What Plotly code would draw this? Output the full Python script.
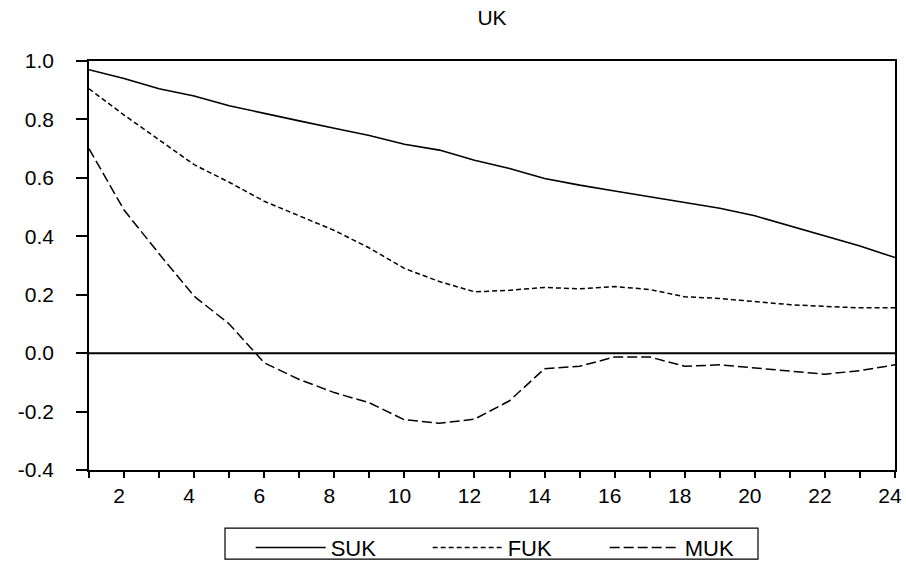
import plotly.graph_objects as go

periods = list(range(1, 25))
suk = [0.97, 0.94, 0.905, 0.88, 0.847, 0.82, 0.795, 0.77, 0.745, 0.715, 0.695, 0.66,
       0.632, 0.598, 0.575, 0.555, 0.535, 0.515, 0.496, 0.47, 0.435, 0.4, 0.367, 0.327]
fuk = [0.905, 0.815, 0.73, 0.645, 0.585, 0.52, 0.47, 0.42, 0.36, 0.29, 0.245, 0.21,
       0.215, 0.225, 0.22, 0.228, 0.218, 0.193, 0.187, 0.176, 0.166, 0.16, 0.155, 0.155]
muk = [0.70, 0.49, 0.34, 0.195, 0.10, -0.033, -0.09, -0.135, -0.17, -0.228, -0.24, -0.226,
       -0.163, -0.053, -0.045, -0.013, -0.013, -0.045, -0.04, -0.05, -0.06, -0.072, -0.06, -0.04]
x_tick_vals = periods
x_tick_text = [str(v) if v % 2 == 0 else "" for v in periods]
y_tick_vals = [-0.4, -0.2, 0.0, 0.2, 0.4, 0.6, 0.8, 1.0]
y_tick_text = ["-0.4", "-0.2", "0.0", "0.2", "0.4", "0.6", "0.8", "1.0"]

FONT = "Arial, Liberation Sans, sans-serif"

fig = go.Figure()
fig.add_trace(go.Scatter(x=periods, y=suk, name="SUK", mode="lines",
                         line=dict(color="black", width=1.6)))
fig.add_trace(go.Scatter(x=periods, y=fuk, name="FUK", mode="lines",
                         line=dict(color="black", width=1.5, dash="5px,3px")))
fig.add_trace(go.Scatter(x=periods, y=muk, name="MUK", mode="lines",
                         line=dict(color="black", width=1.5, dash="10px,4px")))

fig.add_hline(y=0, line=dict(color="black", width=2))

# legend frame (plot area spans 806 x 408 px)
fig.add_shape(type="rect", xref="paper", yref="paper",
              x0=(225 - 89) / 806, x1=(758 - 89) / 806,
              y0=(470 - 559) / 408, y1=(470 - 528) / 408,
              line=dict(color="black", width=1.2), fillcolor="rgba(0,0,0,0)")

fig.update_layout(
    width=906, height=562,
    paper_bgcolor="white", plot_bgcolor="white",
    margin=dict(l=89, r=11, t=61, b=92, autoexpand=False),
    font=dict(family=FONT, size=21, color="black"),
    title=dict(text="UK", x=0.5, xref="paper", y=1 - 18 / 562, yref="container",
               xanchor="center", yanchor="middle", font=dict(size=21)),
    showlegend=True,
    legend=dict(orientation="h", x=0.53, xanchor="center", y=-0.1385, yanchor="top",
                borderwidth=0, bgcolor="rgba(0,0,0,0)",
                font=dict(size=22), entrywidth=92, itemwidth=70),
    xaxis=dict(range=[1, 24], tickvals=x_tick_vals, ticktext=x_tick_text,
               ticks="outside", ticklen=6, tickcolor="black", tickwidth=1.5,
               ticklabelstandoff=0, ticklabelshift=-5, ticklabeloverflow="allow",
               showline=True, linecolor="black", linewidth=1.5, mirror=True,
               showgrid=False, zeroline=False),
    yaxis=dict(range=[-0.4, 1.0], tickvals=y_tick_vals, ticktext=y_tick_text,
               ticks="outside", ticklen=11, tickcolor="black", tickwidth=1.5,
               ticklabelstandoff=18,
               showline=True, linecolor="black", linewidth=1.5, mirror=True,
               showgrid=False, zeroline=False),
)

fig.write_html("out.html")
